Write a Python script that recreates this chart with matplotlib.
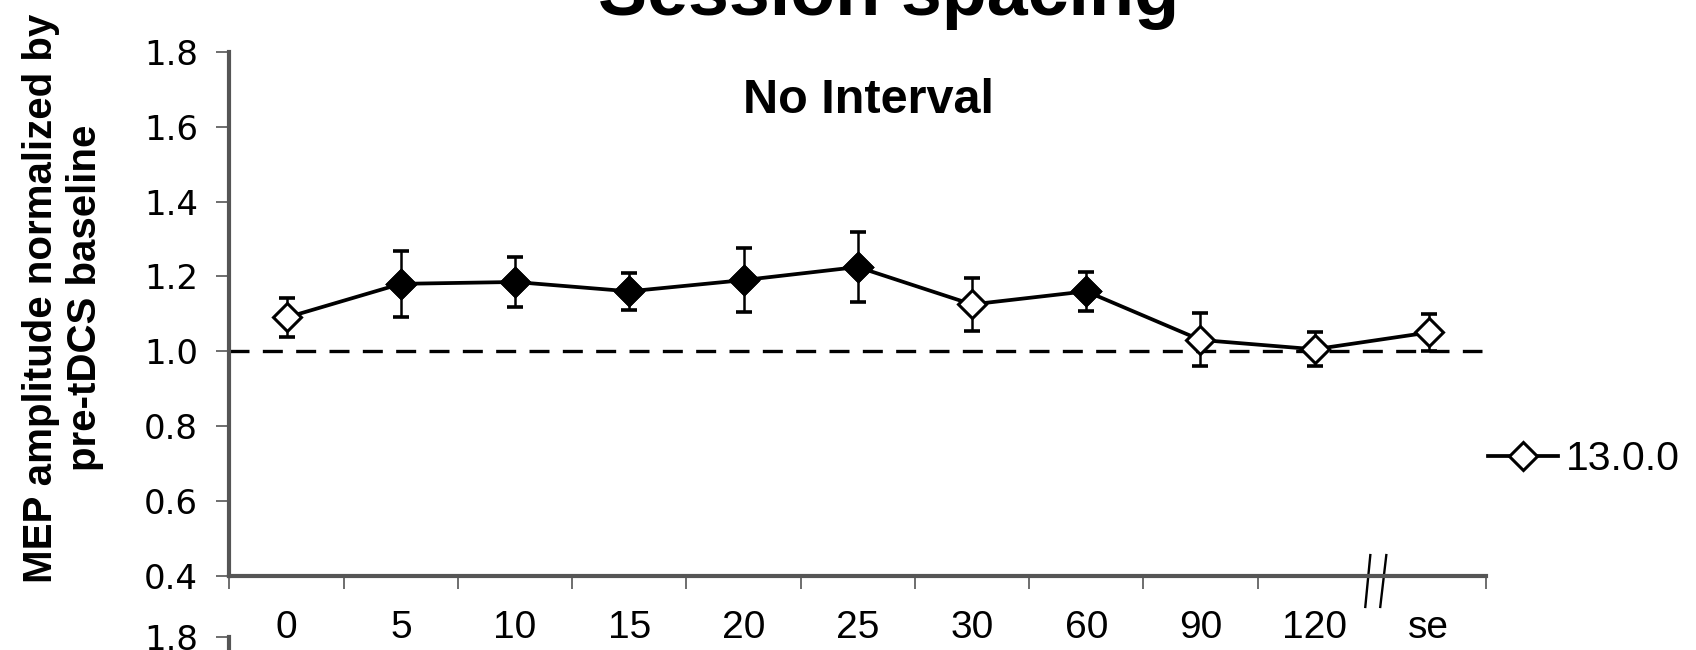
import numpy as np
import matplotlib.pyplot as plt
from matplotlib import transforms

plt.rcParams['font.family'] = 'Liberation Sans'

# data
labels = ['0', '5', '10', '15', '20', '25', '30', '60', '90', '120', 'se']
mep = [1.09, 1.18, 1.185, 1.16, 1.19, 1.225, 1.125, 1.16, 1.03, 1.005, 1.05]
sem = [0.053, 0.088, 0.068, 0.05, 0.085, 0.093, 0.07, 0.052, 0.071, 0.045, 0.049]
filled = [False, True, True, True, True, True, False, True, False, False, False]
yticks = [0.4, 0.6, 0.8, 1.0, 1.2, 1.4, 1.6, 1.8]

x = np.arange(len(labels))
mep = np.array(mep)
filled = np.array(filled)
grey = '#555555'

fig = plt.figure(figsize=(16.96, 6.5), dpi=100)
ax = fig.add_axes([0.1353, 0.1146, 0.7409, 0.8054])

ax.axhline(1.0, xmin=0, xmax=0.997, color='k', lw=2.4, linestyle=(0, (6, 4)), zorder=1)
ax.errorbar(x, mep, yerr=sem, fmt='none', ecolor='k', elinewidth=1.8,
            capsize=6, capthick=2.6, zorder=2)
ax.plot(x, mep, '-', color='k', lw=2.7, marker='D', ms=14.5, mfc='white',
        mec='k', mew=2.2, label='13.0.0', zorder=3)
ax.plot(x[filled], mep[filled], 'D', ms=14.5, mfc='k', mec='k', mew=2.2, zorder=4)

ax.set_xlim(-0.5, len(labels) - 0.5)
ax.set_ylim(0.4, 1.8)
ax.set_yticks(yticks)
ax.set_yticklabels(['%.1f' % v for v in yticks], family='DejaVu Sans', fontsize=24.5)
ax.set_xticks(x)
ax.set_xticklabels(labels, fontsize=28)
bounds = [b - 0.5 for b in range(len(labels) + 1) if b != len(labels) - 1]
ax.set_xticks(bounds, minor=True)

for s in ['top', 'right']:
    ax.spines[s].set_visible(False)
for s in ['left', 'bottom']:
    ax.spines[s].set_color(grey)
    ax.spines[s].set_linewidth(3)
ax.tick_params(axis='x', which='major', length=0, pad=25)
ax.tick_params(axis='x', which='minor', length=9, width=1.2, color=grey, direction='out')
ax.tick_params(axis='y', length=9.7, width=1.2, color=grey, direction='out', pad=13)

# axis break marks between 120 and se
tr = transforms.blended_transform_factory(ax.transData, ax.transAxes)
ax.plot([9.443, 9.487], [-0.06, 0.039], color='k', lw=1.7, transform=tr, clip_on=False)
ax.plot([9.574, 9.627], [-0.06, 0.039], color='k', lw=1.7, transform=tr, clip_on=False)

ax.text(0.5084, 0.8835, 'No Interval', transform=ax.transAxes, ha='center',
        va='baseline', fontsize=35, fontweight='bold')

leg = fig.legend(loc='center left', bbox_to_anchor=(1488 / 1696, (650 - 459) / 650),
                 frameon=False, fontsize=29.5, handlelength=1.7, handletextpad=0.2,
                 borderpad=0, borderaxespad=0)

# top of the panel below, cut by the figure edge
ax2 = fig.add_axes([0.1353, -0.7854, 0.7409, 0.8054])
ax2.set_ylim(0.4, 1.8)
ax2.set_yticks(yticks)
ax2.set_yticklabels(['%.1f' % v for v in yticks], family='DejaVu Sans', fontsize=24.5)
ax2.set_xticks([])
for s in ['top', 'right', 'bottom']:
    ax2.spines[s].set_visible(False)
ax2.spines['left'].set_color(grey)
ax2.spines['left'].set_linewidth(3)
ax2.tick_params(axis='y', length=9.7, width=1.2, color=grey, direction='out', pad=13)
ax2.patch.set_alpha(0)

fig.text(0.5239, 0.9769, 'Session spacing', ha='center', va='baseline',
         fontsize=53, fontweight='bold')
fig.text(0.037, 0.5415, 'MEP amplitude normalized by\npre-tDCS baseline', rotation=90,
         ha='center', va='center', multialignment='center', fontsize=29, fontweight='bold')

fig.savefig('out.png', dpi=100)
